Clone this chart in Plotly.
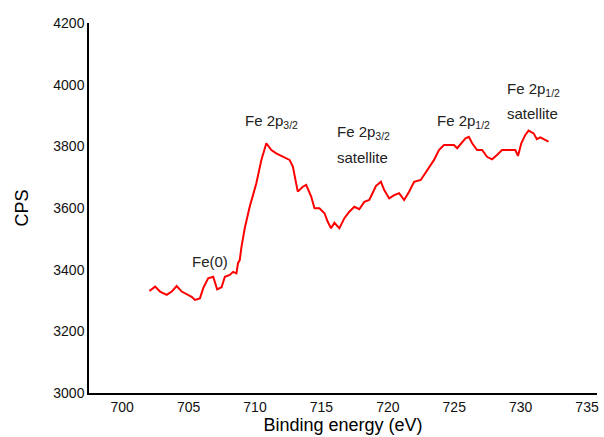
import plotly.graph_objects as go

energy = [702.05, 702.48, 702.85, 703.10, 703.35, 703.73, 704.10, 704.48, 704.85, 705.23,
          705.48, 705.85, 706.10, 706.47, 706.85, 707.15, 707.48, 707.73, 708.10, 708.35,
          708.60, 708.72, 708.85, 708.98, 709.23, 709.60, 710.10, 710.48, 710.85, 711.23,
          711.60, 712.10, 712.60, 712.85, 713.05, 713.22, 713.60, 713.85, 714.23, 714.48,
          714.85, 715.23, 715.47, 715.73, 715.98, 716.35, 716.73, 717.10, 717.48, 717.85,
          718.23, 718.60, 718.85, 719.10, 719.48, 719.73, 720.10, 720.48, 720.85, 721.23,
          721.60, 721.98, 722.48, 722.73, 723.10, 723.48, 723.85, 724.23, 724.60, 724.98,
          725.22, 725.60, 725.85, 726.10, 726.35, 726.72, 727.10, 727.47, 727.85, 728.22,
          728.60, 728.97, 729.35, 729.60, 729.80, 730.05, 730.35, 730.60, 730.98, 731.22,
          731.48, 732.10]
cps = [3331, 3345, 3329, 3323, 3318, 3329, 3347, 3329, 3321, 3312,
       3302, 3307, 3340, 3372, 3377, 3336, 3343, 3377, 3383, 3393,
       3388, 3421, 3431, 3474, 3535, 3604, 3680, 3756, 3810, 3788,
       3777, 3766, 3756, 3734, 3691, 3653, 3669, 3675, 3637, 3599,
       3599, 3583, 3556, 3534, 3552, 3534, 3567, 3588, 3604, 3596,
       3620, 3626, 3648, 3671, 3685, 3658, 3631, 3642, 3648, 3626,
       3653, 3685, 3691, 3707, 3734, 3756, 3788, 3804, 3804, 3804,
       3794, 3815, 3826, 3831, 3810, 3788, 3788, 3766, 3758, 3772,
       3788, 3788, 3788, 3788, 3769, 3810, 3837, 3851, 3842, 3823,
       3829, 3815]

x_ticks = [700, 705, 710, 715, 720, 725, 730, 735]
y_ticks = [3000, 3200, 3400, 3600, 3800, 4000, 4200]

labels = ["Fe(0)", "Fe 2p<sub>3/2</sub>", "Fe 2p<sub>3/2</sub>", "satellite",
          "Fe 2p<sub>1/2</sub>", "Fe 2p<sub>1/2</sub>", "satellite"]
label_x = [706.6, 709.1, 716.0, 716.0, 723.55, 728.85, 728.85]
label_y = [3428, 3880, 3845, 3765, 3880, 3984, 3908]
label_anchor = ["center", "left", "left", "left", "left", "left", "left"]

FONT = "Liberation Sans, Arial, sans-serif"

fig = go.Figure()
fig.add_trace(go.Scatter(x=energy, y=cps, mode="lines",
                         line=dict(color="#ff0000", width=2), showlegend=False))

for t, xx, yy, a in zip(labels, label_x, label_y, label_anchor):
    fig.add_annotation(x=xx, y=yy, text=t, showarrow=False, xanchor=a, yanchor="middle",
                       font=dict(family=FONT, size=15, color="#222222"))

fig.update_layout(
    width=604, height=437,
    margin=dict(l=89, r=5, t=23, b=44),
    paper_bgcolor="white", plot_bgcolor="white",
    font=dict(family=FONT, size=14, color="#000000"),
    xaxis=dict(range=[697.5, 735.75], tickvals=x_ticks, showgrid=False, zeroline=False,
               showline=True, linecolor="#000000", linewidth=1.5, ticks="", ticklen=0,
               tickfont=dict(size=14, color="#111111"),
               title=dict(text="Binding energy (eV)", font=dict(size=18), standoff=4)),
    yaxis=dict(range=[3000, 4200], tickvals=y_ticks, showgrid=False, zeroline=False,
               showline=True, linecolor="#000000", linewidth=1.5, ticks="", ticklen=0,
               tickfont=dict(size=14, color="#111111"),
               title=dict(text="CPS", font=dict(size=18), standoff=20)),
)

fig.write_html("out.html")
